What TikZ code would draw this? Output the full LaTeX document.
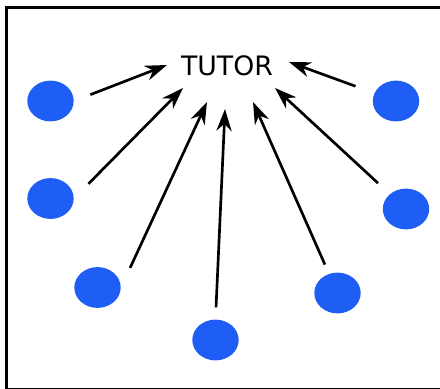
\documentclass[tikz,border=0pt]{standalone}
\usepackage{fontspec}
\setmainfont{DejaVu Sans}
\usepackage{xcolor}
\usepackage{tikz}
\usetikzlibrary{positioning,arrows.meta,shapes}

\definecolor{dotblue}{HTML}{1F5EF5}

\begin{document}
\begin{tikzpicture}[
    student/.style={ellipse, fill=dotblue, inner sep=0pt, minimum width=1.16cm, minimum height=1.02cm},
    label/.style={font=\fontsize{19}{22}\selectfont},
    link/.style={draw=black, line width=1.9pt, -{Stealth[length=5.5mm, width=3.8mm]}}
]

\useasboundingbox (0,0) rectangle (11,9.7);
\draw[line width=2.5pt] (0.1625,9.5125) rectangle (11.1,-0.035);

\node[label] (tutor) at (5.675,8.05) {TUTOR};

% students around the tutor
\node[student] (s1) at (1.2625,7.175) {};
\node[student] (s2) at (1.2625,4.7375) {};
\node[student] (s3) at (2.4375,2.5125) {};
\node[student] (s4) at (5.3875,1.2) {};
\node[student] (s5) at (8.4375,2.375) {};
\node[student] (s6) at (10.15,4.475) {};
\node[student] (s7) at (9.9,7.175) {};

% arrow tips just below the label
\coordinate (t1) at (4.175,8.075);
\coordinate (t2) at (4.575,7.5);
\coordinate (t3) at (5.175,7.15);
\coordinate (t4) at (5.625,6.975);
\coordinate (t5) at (6.325,7.15);
\coordinate (t6) at (6.875,7.5);
\coordinate (t7) at (7.225,8.15);

\draw[link, shorten <=0.44cm] (s1.east) -- (t1);
\draw[link, shorten <=0.515cm] (s2.east) -- (t2);
\draw[link, shorten <=0.54cm] (s3.east) -- (t3);
\draw[link, shorten <=0.3cm] (s4.north) -- (t4);
\draw[link, shorten <=0.25cm] (s5) -- (t5);
\draw[link, shorten <=0.4cm] (s6) -- (t6);
\draw[link, shorten <=0.5cm] (s7) -- (t7);

\end{tikzpicture}
\end{document}
